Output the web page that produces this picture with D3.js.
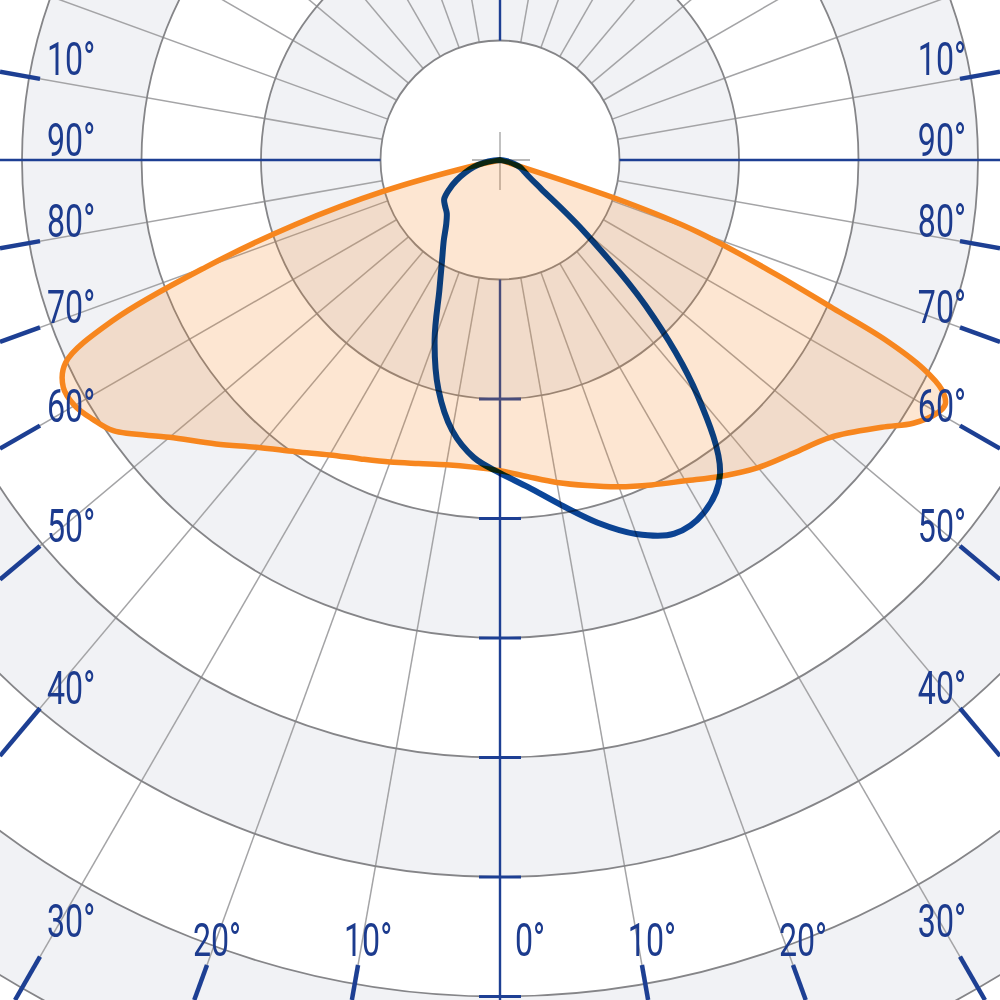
<!DOCTYPE html>
<html><head><meta charset="utf-8">
<script src="https://cdn.jsdelivr.net/npm/d3@7"></script>
<style>html,body{margin:0;padding:0;background:#fff;} svg{display:block;}</style>
</head><body>
<svg id="chart" width="1000" height="1000"></svg>
<script>
// ---- data (angle measured from nadir, positive to the right; value in cd/klm-like units) ----
const orangeAngles = [-80,-77.5,-75,-72.5,-70,-67.5,-65,-62.5,-60,-57.5,-55,-50,-45,-40,-35,-30,-25,-20,-15,-10,-5,0,5,10,15,20,25,30,35,40,45,50,55,57.5,60,61.25,62.5,63.75,65,66,67.5,70,71.5,73];
const orangeValues = [0,25,100,180,262,350,401,412,411,404,395,361,336,314,298,285,276,269,263,259,258,260,266,274,282,291,300,310,323,336,347,361,390,410,423,425,417,395,355,305,250,176,110,0];
const blueAngles = [-90,-85,-80,-75,-70,-65,-60,-55,-50,-45,-40,-35,-30,-25,-20,-15,-10,-5,0,5,10,15,20,25,30,35,40,45,50,55,60,65,70,75,80,85,90];
const blueValues = [0,5,14,23,31,40,49,57,60,63,70,82,97,120,160,199,230,250,262,275,293,314,333,345,341,321,257,172,87,42,28,22,18,12,6,2,0];
const ringValues = [100,200,300,400,500,600,700,800,900];
const axisTickValues = [200,300,400,500,600,700,800];
const spokeAngles = [10,20,30,40,50,60,70,80,100,110,120,130,140,150,160,170,190,200,210,220,230,240,250,260,280,290,300,310,320,330,340,350];
const axisAngles = [0,90,180,270];
const labelAngles = [-100,-90,-80,-70,-60,-50,-40,-30,-20,-10,0,10,20,30,40,50,60,70,80,90,100];
const labelTexts = ["10°","90°","80°","70°","60°","50°","40°","30°","20°","10°","0°","10°","20°","30°","40°","50°","60°","70°","80°","90°","10°"];

// ---- layout ----
const W = 1000, H = 1000, cx = 500, cy = 160;
const svg = d3.select('#chart');
const rScale = d3.scaleLinear().domain([0, 100]).range([0, 119.5]);
const aScale = d3.scaleLinear().domain([-180, 180]).range([2 * Math.PI, 0]); // 0 = down
const blue = '#1d3f93';
const g = svg.append('g').attr('transform', `translate(${cx},${cy})`);

// bands
const bandRings = ringValues.slice().reverse();
g.selectAll('circle.band').data(bandRings).enter().append('circle')
  .attr('r', d => rScale(d))
  .attr('fill', d => ((d / 100) % 2 === 0) ? '#f1f2f5' : '#ffffff');

// spokes
function pt(theta, v) { const a = aScale(theta); const r = rScale(v); return [r * Math.sin(a), -r * Math.cos(a)]; }
g.selectAll('line.spoke').data(spokeAngles).enter().append('line')
  .attr('x1', d => pt(d, 100)[0]).attr('y1', d => pt(d, 100)[1])
  .attr('x2', d => pt(d, 1500)[0]).attr('y2', d => pt(d, 1500)[1])
  .attr('stroke', '#a4a4a6').attr('stroke-width', 1.5);

// rings
g.selectAll('circle.ring').data(ringValues).enter().append('circle')
  .attr('r', d => rScale(d)).attr('fill', 'none')
  .attr('stroke', '#858588').attr('stroke-width', 1.8);

// center cross
g.append('line').attr('x1', 0).attr('x2', 0).attr('y1', -28).attr('y2', 30).attr('stroke', '#a0a0a0').attr('stroke-width', 1.3);
g.append('line').attr('x1', -28).attr('x2', 30).attr('y1', 0).attr('y2', 0).attr('stroke', '#a0a0a0').attr('stroke-width', 1.3);

// axes
g.selectAll('line.axis').data(axisAngles).enter().append('line')
  .attr('x1', d => pt(d, 100)[0]).attr('y1', d => pt(d, 100)[1])
  .attr('x2', d => pt(d, 1500)[0]).attr('y2', d => pt(d, 1500)[1])
  .attr('stroke', blue).attr('stroke-width', 2.4);
g.selectAll('line.atick').data(axisTickValues).enter().append('line')
  .attr('x1', -21).attr('x2', 21)
  .attr('y1', d => rScale(d)).attr('y2', d => rScale(d))
  .attr('stroke', blue).attr('stroke-width', 3);

// curves
const radial = d3.lineRadial()
  .angle(d => aScale(d[0])).radius(d => rScale(d[1]))
  .curve(d3.curveCatmullRomClosed.alpha(0.5));
const orangeData = d3.zip(orangeAngles, orangeValues);
const blueData = d3.zip(blueAngles, blueValues);
g.append('path').datum(orangeData).attr('d', radial)
  .attr('fill', '#f58220').attr('fill-opacity', 0.2).attr('stroke', 'none');
g.append('path').datum(orangeData).attr('d', radial)
  .attr('fill', 'none').attr('stroke', '#f7861e').attr('stroke-width', 5.5).attr('stroke-linejoin', 'round');
g.append('path').datum(blueData).attr('d', radial)
  .attr('fill', 'none').attr('stroke', '#0b4699').attr('stroke-width', 6)
  .attr('stroke-linejoin', 'round').style('mix-blend-mode', 'multiply');

// frame ticks and labels
const inset = { left: 40, right: 960, bottom: 965, top: 0 };
const outer = { left: 0, right: W, bottom: H, top: 0 };
function hit(theta, box) {
  const a = aScale(theta); const ux = Math.sin(a), uy = -Math.cos(a);
  let best = Infinity, edge = null;
  if (ux < -1e-9) { const t = (cx - box.left) / -ux; if (t < best) { best = t; edge = 'left'; } }
  if (ux > 1e-9) { const t = (box.right - cx) / ux; if (t < best) { best = t; edge = 'right'; } }
  if (uy > 1e-9) { const t = (box.bottom - cy) / uy; if (t < best) { best = t; edge = 'bottom'; } }
  if (uy < -1e-9) { const t = (cy - box.top) / -uy; if (t < best) { best = t; edge = 'top'; } }
  return { x: cx + ux * best, y: cy + uy * best, edge };
}
const tickAngles = labelAngles.filter(d => d % 90 !== 0);
svg.selectAll('line.ftick').data(tickAngles).enter().append('line')
  .attr('x1', d => hit(d, inset).x).attr('y1', d => hit(d, inset).y)
  .attr('x2', d => hit(d, outer).x).attr('y2', d => hit(d, outer).y)
  .attr('stroke', blue).attr('stroke-width', 4.5);

const labels = labelAngles.map((d, i) => {
  const p = hit(d, inset);
  let x, y, anchor;
  if (p.edge === 'left') { x = p.x + 7; y = Math.min(p.y - 4, 937); anchor = 'start'; }
  else if (p.edge === 'right') { x = p.x + 6; y = Math.min(p.y - 4, 937); anchor = 'end'; }
  else { x = p.x + (d === 0 ? 30 : 10); y = p.y - 9; anchor = 'middle'; }
  return { x, y, anchor, text: labelTexts[i] };
});
svg.selectAll('text.lab').data(labels).enter().append('text')
  .attr('transform', d => `translate(${d.x},${d.y}) scale(0.7,1)`)
  .attr('text-anchor', d => d.anchor)
  .attr('font-family', 'Roboto, sans-serif').attr('font-size', 46).attr('font-weight', 400)
  .attr('fill', '#1c3b8e')
  .text(d => d.text);
</script>
</body></html>
